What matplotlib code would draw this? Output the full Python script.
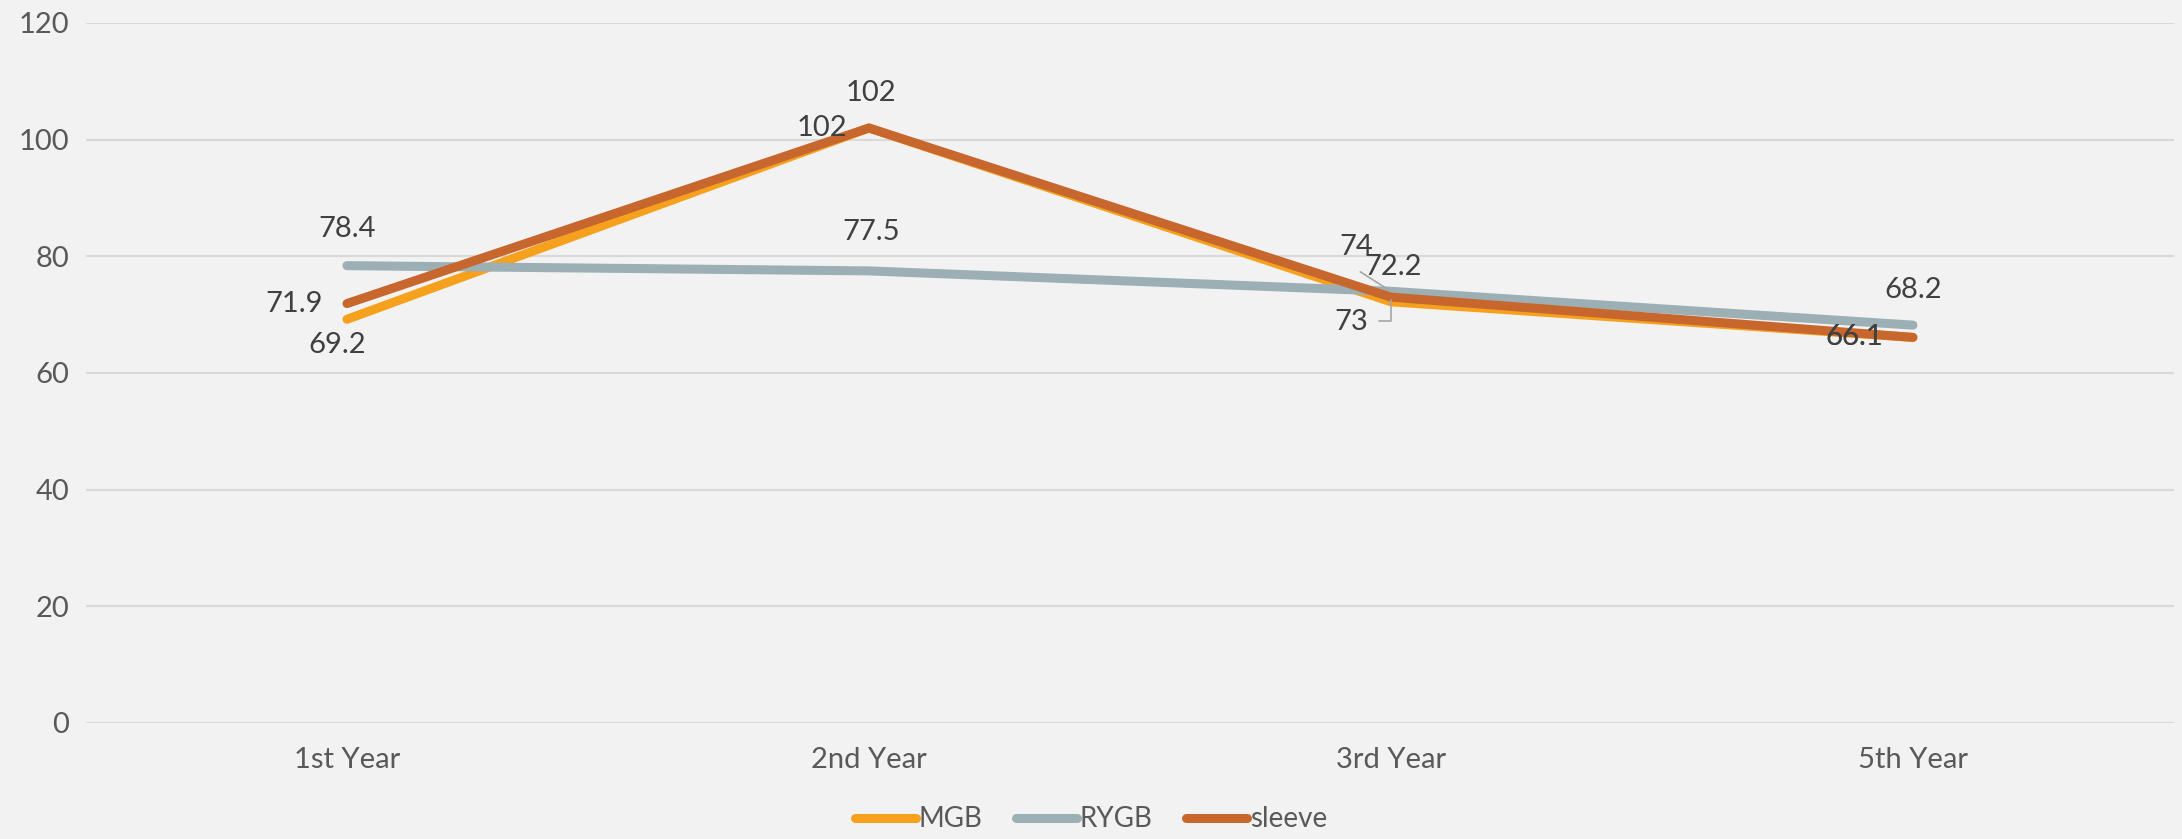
import matplotlib
matplotlib.use('Agg')
import matplotlib.pyplot as plt

# ── DATA ──────────────────────────────────────────────────────────────────────
years = ["1st Year", "2nd Year", "3rd Year", "5th Year"]
mgb = [69.2, 102, 72.2, 66.1]
rygb = [78.4, 77.5, 74, 68.2]
sleeve = [71.9, 102, 73, 66.1]

# label offsets (pixels) and alignment per point
MGB_LBL = [((-10, -26), "center"), ((-22, 0), "right"), ((0, 0), "center"), ((-30, 0), "right")]
RYGB_LBL = [((0, 37), "center"), ((2, 39), "center"), ((0, 0), "center"), ((0, 35), "center")]
SLV_LBL = [((-24, 0), "right"), ((2, 35), "center"), ((0, 0), "center"), ((-30, 0), "right")]

BG = "#F2F2F2"
COLORS = {"MGB": "#F5A11E", "RYGB": "#9BAFB4", "sleeve": "#C7672E"}
TXT = "#404040"

plt.rcParams['font.family'] = ['Lato', 'DejaVu Sans']

fig = plt.figure(figsize=(21.82, 8.39), dpi=100, facecolor=BG)
ax = fig.add_axes([0.0394, 0.1383, 0.9569, 0.8343], facecolor=BG)

x = list(range(len(years)))
for name, vals in [("MGB", mgb), ("RYGB", rygb), ("sleeve", sleeve)]:
    ax.plot(x, vals, color=COLORS[name], linewidth=6.5, solid_capstyle="round",
            solid_joinstyle="round", label=name, zorder=3)


def put(xi, yi, text, off, ha):
    ax.annotate(text, (xi, yi), xytext=off, textcoords="offset pixels",
                ha=ha, va="center", fontsize=21, color=TXT, zorder=5)


for i in (0, 1, 3):
    put(i, mgb[i], f"{mgb[i]:g}", *MGB_LBL[i])
    put(i, rygb[i], f"{rygb[i]:g}", *RYGB_LBL[i])
    put(i, sleeve[i], f"{sleeve[i]:g}", *SLV_LBL[i])

# 3rd Year labels are crowded, drawn with leader lines
put(2, rygb[2], f"{rygb[2]:g}", (-35, 44), "center")
put(2, mgb[2], f"{mgb[2]:g}", (2, 35), "center")
put(2, sleeve[2], f"{sleeve[2]:g}", (-40, -25), "center")
ax.annotate("", (2, rygb[2]), xytext=(-33, 21), textcoords="offset pixels",
            arrowprops=dict(arrowstyle="-", color="#A6A6A6", lw=1.2), zorder=4)
ax.annotate("", (2, sleeve[2]), xytext=(-15, -24), textcoords="offset pixels",
            arrowprops=dict(arrowstyle="-", color="#A6A6A6", lw=1.2,
                            connectionstyle="angle,angleA=0,angleB=90,rad=0"), zorder=4)

ax.set_xlim(-0.5, len(years) - 0.5)
ax.set_ylim(0, 120)
ax.set_yticks(range(0, 121, 20))
ax.set_xticks(x)
ax.set_xticklabels(years)
ax.tick_params(axis="both", length=0, labelsize=21, colors="#595959")
ax.tick_params(axis="x", pad=17)
ax.tick_params(axis="y", pad=12)
ax.grid(axis="y", color="#D9D9D9", linewidth=1.5, zorder=0)
ax.set_axisbelow(True)
for s in ax.spines.values():
    s.set_visible(False)

leg = fig.legend(loc="lower center", bbox_to_anchor=(0.5, -0.022), ncol=3,
                 frameon=False, fontsize=20, handlelength=2.2, handletextpad=0.1,
                 columnspacing=1.2)
for t in leg.get_texts():
    t.set_color("#595959")

fig.savefig("out.png", dpi=100, facecolor=BG)
